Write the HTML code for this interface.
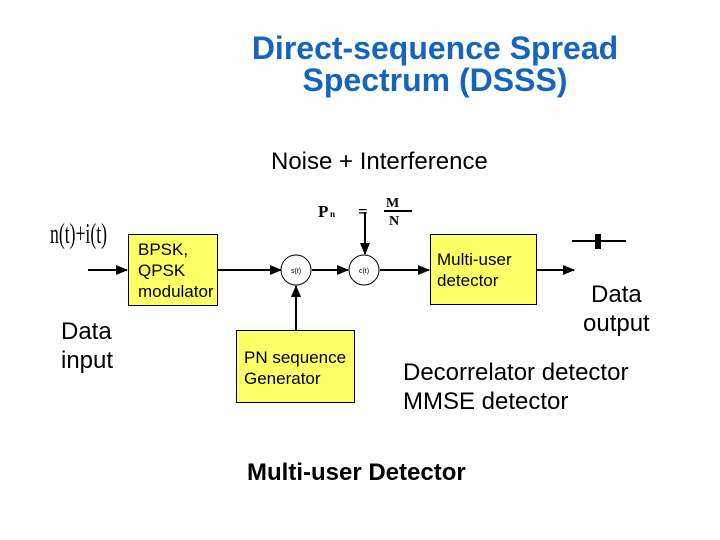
<!DOCTYPE html>
<html><head><style>
body{margin:0;width:720px;height:540px;background:#fff;position:relative;overflow:hidden;font-family:"Liberation Sans",sans-serif}
.t{position:absolute;white-space:nowrap}
.box{position:absolute;background:#ffff66;border:1px solid #000;box-sizing:border-box;font-size:17px;line-height:21px;padding:4px 8px;white-space:nowrap}
</style></head><body>
<div class="t" style="left:235px;top:32px;font-size:32px;font-weight:bold;color:#1565c0;text-align:center;width:400px;line-height:32px">Direct-sequence Spread<br>Spectrum (DSSS)</div>
<div class="t" style="left:271px;top:148px;font-size:24px">Noise + Interference</div>
<svg width="720" height="540" style="position:absolute;left:0;top:0">
<defs><marker id="a" markerWidth="12" markerHeight="12" refX="11" refY="5" orient="auto" markerUnits="userSpaceOnUse"><path d="M0,0 L12,5 L0,10z" fill="#000"/></marker></defs>
<g stroke="#000" stroke-width="2" fill="none">
<line x1="88" y1="270" x2="127" y2="270" marker-end="url(#a)"/>
<line x1="217" y1="270" x2="281" y2="270" marker-end="url(#a)"/>
<line x1="312" y1="270" x2="348" y2="270" marker-end="url(#a)"/>
<line x1="380" y1="270" x2="429" y2="270" marker-end="url(#a)"/>
<line x1="536" y1="270" x2="574" y2="270" marker-end="url(#a)"/>
<line x1="365" y1="212" x2="365" y2="254" marker-end="url(#a)"/>
<line x1="296" y1="330" x2="296" y2="286" marker-end="url(#a)"/>
<line x1="572" y1="241" x2="626" y2="241"/>
</g>
<rect x="595" y="234" width="6" height="15" fill="#000"/>
<circle cx="296" cy="270" r="15" fill="#fff" stroke="#000"/>
<circle cx="364" cy="270" r="15" fill="#fff" stroke="#000"/>
<text x="296" y="273" font-size="7" text-anchor="middle" font-family="Liberation Sans">s(t)</text>
<text x="364" y="273" font-size="7" text-anchor="middle" font-family="Liberation Sans">c(t)</text>
<text x="50" y="243" font-size="28" font-family="Liberation Serif" textLength="57" lengthAdjust="spacingAndGlyphs">n(t)+i(t)</text>
<text x="318" y="217" font-size="17" font-weight="bold" font-family="Liberation Serif">P</text>
<text x="330" y="217" font-size="9" font-weight="bold" font-family="Liberation Serif">n</text>
<text x="358" y="217" font-size="17" font-weight="bold" font-family="Liberation Serif">=</text>
<text x="386" y="207" font-size="14" font-weight="bold" font-family="Liberation Serif">M</text>
<line x1="384" y1="211" x2="412" y2="211" stroke="#000" stroke-width="2"/>
<text x="389" y="225" font-size="14" font-weight="bold" font-family="Liberation Serif">N</text>
</svg>
<div class="box" style="left:128px;top:234px;width:90px;height:72px;padding:4px 9px;line-height:21px">BPSK,<br>QPSK<br>modulator</div>
<div class="box" style="left:430px;top:234px;width:107px;height:71px;padding:14px 6px;line-height:21px">Multi-user<br>detector</div>
<div class="box" style="left:236px;top:330px;width:119px;height:73px;padding:16px 7px;line-height:21px">PN sequence<br>Generator</div>
<div class="t" style="left:61px;top:317px;font-size:24px;line-height:29px">Data<br>input</div>
<div class="t" style="left:583px;top:280px;font-size:24px;line-height:29px;text-align:center">Data<br>output</div>
<div class="t" style="left:403px;top:358px;font-size:24px;line-height:29px">Decorrelator detector<br>MMSE detector</div>
<div class="t" style="left:247px;top:459px;font-size:24px;font-weight:bold">Multi-user Detector</div>
</body></html>
